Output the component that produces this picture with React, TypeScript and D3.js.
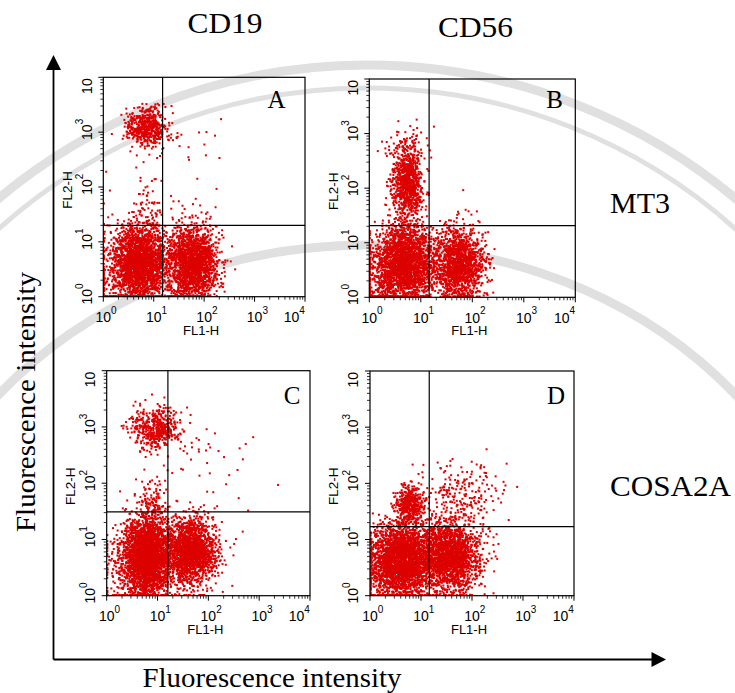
import React, { useMemo } from "react";
import { scaleLog, range } from "d3";

const W = 735;
const H = 693;

const columnLabels = ["CD19", "CD56"];
const rowLabels = ["MT3", "COSA2A"];
const panelLetters = ["A", "B", "C", "D"];
const decades = [1, 10, 100, 1000, 10000];
const decadeExponents = ["0", "1", "2", "3", "4"];
const minorSteps = [2, 3, 4, 5, 6, 7, 8, 9];
const xAxisTitle = "FL1-H";
const yAxisTitle = "FL2-H";
const outerTitle = "Fluorescence intensity";

// quadrant gates per panel (FL1, FL2)
const gateFL1 = [15, 14.5, 16, 14.5];
const gateFL2 = [20, 20.5, 31, 17];

// populations: geometric mean FL1 / FL2,
// spread in decades, number of events
interface Pop {
  fl1: number;
  fl2: number;
  sd1: number;
  sd2: number;
  n: number;
}

const popsA: Pop[] = [
  { fl1: 7, fl2: 1250, sd1: 0.2, sd2: 0.18, n: 520 },
  { fl1: 7.5, fl2: 60, sd1: 0.15, sd2: 0.4, n: 45 },
  { fl1: 40, fl2: 500, sd1: 0.45, sd2: 0.35, n: 25 },
  { fl1: 5.3, fl2: 4.2, sd1: 0.26, sd2: 0.34, n: 2400 },
  { fl1: 58, fl2: 4.0, sd1: 0.25, sd2: 0.34, n: 1900 },
  { fl1: 1.8, fl2: 2.2, sd1: 0.3, sd2: 0.4, n: 200 },
];

const popsB: Pop[] = [
  { fl1: 5.6, fl2: 120, sd1: 0.14, sd2: 0.33, n: 900 },
  { fl1: 4.5, fl2: 600, sd1: 0.25, sd2: 0.25, n: 60 },
  { fl1: 5.0, fl2: 4.2, sd1: 0.27, sd2: 0.35, n: 2200 },
  { fl1: 55, fl2: 4.0, sd1: 0.25, sd2: 0.33, n: 1500 },
  { fl1: 1.8, fl2: 2.0, sd1: 0.3, sd2: 0.4, n: 320 },
];

const popsC: Pop[] = [
  { fl1: 9, fl2: 950, sd1: 0.25, sd2: 0.18, n: 480 },
  { fl1: 90, fl2: 250, sd1: 0.55, sd2: 0.4, n: 45 },
  { fl1: 8, fl2: 40, sd1: 0.15, sd2: 0.3, n: 130 },
  { fl1: 6.2, fl2: 5.0, sd1: 0.24, sd2: 0.35, n: 2900 },
  { fl1: 45, fl2: 6.0, sd1: 0.26, sd2: 0.3, n: 1800 },
  { fl1: 2.5, fl2: 3.0, sd1: 0.3, sd2: 0.4, n: 180 },
];

const popsD: Pop[] = [
  { fl1: 6, fl2: 42, sd1: 0.14, sd2: 0.17, n: 430 },
  { fl1: 60, fl2: 55, sd1: 0.42, sd2: 0.3, n: 240 },
  { fl1: 4.2, fl2: 4.2, sd1: 0.3, sd2: 0.33, n: 2600 },
  { fl1: 35, fl2: 5.0, sd1: 0.3, sd2: 0.3, n: 2000 },
  { fl1: 1.8, fl2: 2.2, sd1: 0.3, sd2: 0.35, n: 180 },
];

const panelPops = [popsA, popsB, popsC, popsD];

// layout (pixels)
const frames = [
  { x0: 103.3, x1: 305, y0: 77.3, y1: 296.7, lx: 285.5, ly: 107.5 },
  { x0: 369.3, x1: 575.3, y0: 79, y1: 297.3, lx: 563, ly: 107.5 },
  { x0: 106.7, x1: 310, y0: 370.7, y1: 595.7, lx: 300.5, ly: 404 },
  { x0: 370, x1: 574, y0: 371, y1: 595.7, lx: 565, ly: 404 },
];

const DOT = "#dd0000";
const SANS = "'Liberation Sans', Arial, sans-serif";
const SERIF = "'Liberation Serif', 'Times New Roman', serif";

// seeded generator so the dot cloud is the same every render
function mulberry32(seed: number) {
  let a = seed;
  return () => {
    a |= 0;
    a = (a + 0x6d2b79f5) | 0;
    let t = Math.imul(a ^ (a >>> 15), 1 | a);
    t = (t + Math.imul(t ^ (t >>> 7), 61 | t)) ^ t;
    return ((t ^ (t >>> 14)) >>> 0) / 4294967296;
  };
}

function sampleEvents(pops: Pop[], seed: number) {
  const rnd = mulberry32(seed);
  const gauss = () => {
    const u = Math.max(rnd(), 1e-9);
    const v = rnd();
    return Math.sqrt(-2 * Math.log(u)) * Math.cos(2 * Math.PI * v);
  };
  const clampLog = (l: number) => Math.min(3.985, Math.max(0.012, l));
  const out: [number, number][] = [];
  pops.forEach((p) => {
    for (let i = 0; i < p.n; i++) {
      const lx = clampLog(Math.log10(p.fl1) + gauss() * p.sd1);
      const ly = clampLog(Math.log10(p.fl2) + gauss() * p.sd2);
      out.push([Math.pow(10, lx), Math.pow(10, ly)]);
    }
  });
  return out;
}

const DotPlot = ({ idx }: { idx: number }) => {
  const f = frames[idx];
  const x = scaleLog().domain([1, 10000]).range([f.x0, f.x1]);
  const y = scaleLog().domain([1, 10000]).range([f.y1, f.y0]);
  const events = useMemo(() => sampleEvents(panelPops[idx], 17 + idx * 101), [idx]);
  const minors = range(0, 4).flatMap((d) => minorSteps.map((k) => k * Math.pow(10, d)));
  const clipId = `clip-${idx}`;
  const midX = (f.x0 + f.x1) / 2;
  const midY = (f.y0 + f.y1) / 2;

  return (
    <g>
      <clipPath id={clipId}>
        <rect x={f.x0} y={f.y0} width={f.x1 - f.x0} height={f.y1 - f.y0} />
      </clipPath>
      <g clipPath={`url(#${clipId})`}>
        {events.map((e, i) => (
          <rect key={i} x={x(e[0]) - 1} y={y(e[1]) - 1} width={2} height={2} fill={DOT} />
        ))}
      </g>
      <rect
        x={f.x0}
        y={f.y0}
        width={f.x1 - f.x0}
        height={f.y1 - f.y0}
        fill="none"
        stroke="#000"
        strokeWidth={1.2}
      />
      <line x1={x(gateFL1[idx])} x2={x(gateFL1[idx])} y1={f.y0} y2={f.y1} stroke="#000" strokeWidth={1.2} />
      <line x1={f.x0} x2={f.x1} y1={y(gateFL2[idx])} y2={y(gateFL2[idx])} stroke="#000" strokeWidth={1.2} />

      {/* x axis ticks */}
      {decades.map((d) => (
        <line key={`xm${d}`} x1={x(d)} x2={x(d)} y1={f.y1} y2={f.y1 + 5} stroke="#000" strokeWidth={1} />
      ))}
      {minors.map((d) => (
        <line key={`xn${d}`} x1={x(d)} x2={x(d)} y1={f.y1} y2={f.y1 + 3} stroke="#000" strokeWidth={0.8} />
      ))}
      {/* y axis ticks */}
      {decades.map((d) => (
        <line key={`ym${d}`} x1={f.x0 - 5} x2={f.x0} y1={y(d)} y2={y(d)} stroke="#000" strokeWidth={1} />
      ))}
      {minors.map((d) => (
        <line key={`yn${d}`} x1={f.x0 - 3} x2={f.x0} y1={y(d)} y2={y(d)} stroke="#000" strokeWidth={0.8} />
      ))}

      {/* x tick labels */}
      {decades.map((d, i) => {
        const cx = i === decades.length - 1 ? x(d) - 13.5 : x(d);
        return (
          <g key={`xl${d}`} fontFamily={SANS}>
            <text x={cx} y={f.y1 + 25.5} fontSize={14} textAnchor="middle">
              10
            </text>
            <text x={cx + 7.8} y={f.y1 + 17} fontSize={10}>
              {decadeExponents[i]}
            </text>
          </g>
        );
      })}
      <text x={midX - 3} y={f.y1 + 38} fontSize={13} fontFamily={SANS} textAnchor="middle">
        {xAxisTitle}
      </text>

      {/* y tick labels, rotated */}
      {decades.map((d, i) => {
        const last = i === decades.length - 1;
        return (
          <g key={`yl${d}`} fontFamily={SANS}>
            <text
              transform={`translate(${f.x0 - 11.6},${last ? f.y0 + 1 : y(d)}) rotate(-90)`}
              fontSize={14}
              textAnchor={last ? "end" : "middle"}
            >
              10
            </text>
            {!last && (
              <text transform={`translate(${f.x0 - 20},${y(d) - 7.8}) rotate(-90)`} fontSize={10}>
                {decadeExponents[i]}
              </text>
            )}
          </g>
        );
      })}
      <text
        transform={`translate(${f.x0 - 31.6},${midY + 3}) rotate(-90)`}
        fontSize={13.5}
        fontFamily={SANS}
        textAnchor="middle"
      >
        {yAxisTitle}
      </text>

      <text x={f.lx} y={f.ly} fontSize={25} fontFamily={SERIF} textAnchor="end">
        {panelLetters[idx]}
      </text>
    </g>
  );
};

export default function App() {
  return (
    <svg
      width={W}
      height={H}
      viewBox={`0 0 ${W} ${H}`}
      style={{ position: "absolute", left: 0, top: 0, display: "block", background: "#fff" }}
    >
      {/* faint seal watermark behind the plots */}
      <g fill="none" stroke="#e0e0e0">
        <circle cx={367} cy={640} r={575} strokeWidth={9} />
        <circle cx={367} cy={640} r={552} strokeWidth={5} />
        <ellipse cx={367} cy={640} rx={470} ry={395} strokeWidth={9} />
      </g>

      {[0, 1, 2, 3].map((i) => (
        <DotPlot key={i} idx={i} />
      ))}

      {/* outer arrows */}
      <line x1={53.5} x2={53.5} y1={659.5} y2={68} stroke="#000" strokeWidth={1.8} />
      <path d="M53.5,55 L46,70 L61,70 Z" fill="#000" />
      <line x1={53.5} x2={653} y1={659.5} y2={659.5} stroke="#000" strokeWidth={1.8} />
      <path d="M666,659.5 L651.5,652 L651.5,667 Z" fill="#000" />

      <g fontFamily={SERIF} fill="#000">
        <text x={225} y={33} fontSize={29} textAnchor="middle" textLength={75} lengthAdjust="spacingAndGlyphs">
          {columnLabels[0]}
        </text>
        <text x={475.5} y={37} fontSize={29} textAnchor="middle" textLength={75} lengthAdjust="spacingAndGlyphs">
          {columnLabels[1]}
        </text>
        <text x={610} y={212.5} fontSize={30}>
          {rowLabels[0]}
        </text>
        <text x={610} y={496} fontSize={30} textLength={121} lengthAdjust="spacingAndGlyphs">
          {rowLabels[1]}
        </text>
        <text x={272} y={686.5} fontSize={28} textAnchor="middle" textLength={259} lengthAdjust="spacingAndGlyphs">
          {outerTitle}
        </text>
        <text
          transform="translate(35,402) rotate(-90)"
          fontSize={28}
          textAnchor="middle"
          textLength={260}
          lengthAdjust="spacingAndGlyphs"
        >
          {outerTitle}
        </text>
      </g>
    </svg>
  );
}
